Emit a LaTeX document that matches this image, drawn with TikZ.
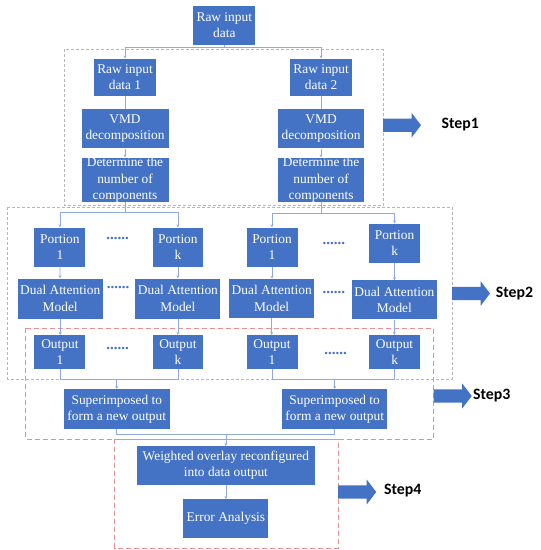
\documentclass[tikz,border=0pt]{standalone}
\usepackage{fontspec}
\setmainfont{Liberation Serif}
\newfontfamily\boxfont{Liberation Serif}
\newfontfamily\stepfont{Carlito}
\usetikzlibrary{arrows.meta}
\definecolor{boxblue}{HTML}{4472C4}
\definecolor{lineblue}{HTML}{8FAADC}
\definecolor{graydash}{HTML}{B8B8B8}
\definecolor{reddash}{HTML}{EC8E8E}
\newcommand\stepArrow[2]{\fill[boxblue] (#1,#2-6.7) -- (#1+28.5,#2-6.7) -- (#1+28.5,#2-12.5) -- (#1+38,#2) -- (#1+28.5,#2+12.5) -- (#1+28.5,#2+6.7) -- (#1,#2+6.7) -- cycle;}
\begin{document}
\begin{tikzpicture}[x=1pt,y=-1pt,
  bx/.style={fill=boxblue, text=white, align=center, inner sep=0pt,
    font=\boxfont\fontsize{13.4}{16.2}\selectfont},
  ln/.style={draw=lineblue, line width=0.7pt},
  arr/.style={ln, -{Stealth[length=3pt,width=3pt]}},
  dots/.style={text=boxblue, font=\boxfont\fontsize{15}{15}\selectfont\bfseries, inner sep=0pt},
  steplabel/.style={font=\stepfont\bfseries\fontsize{15.8}{18}\selectfont, inner sep=0pt},
  gbox/.style={draw=graydash, line width=0.8pt, dash pattern=on 3pt off 2pt},
  rbox/.style={draw=reddash, line width=1pt, dash pattern=on 5pt off 3pt}]
\useasboundingbox (0,0) rectangle (541,550);
% dashed groups
\draw[gbox] (64.2,49.3) rectangle (383,205.5);
\draw[gbox] (7.6,207.3) rectangle (452,379);
\draw[rbox] (25.9,328) rectangle (433,439.4);
\draw[rbox] (114.9,439.4) rectangle (338.2,548);
% boxes
\node[bx, minimum width=62, minimum height=39] (raw) at (224.3,25.4) {Raw input\\data};
\node[bx, minimum width=62, minimum height=37] (raw1) at (125,77.1) {Raw input\\data 1};
\node[bx, minimum width=62, minimum height=37] (raw2) at (321.1,77.1) {Raw input\\data 2};
\node[bx, minimum width=87, minimum height=39] (vmd1) at (125,128.9) {VMD\\decomposition};
\node[bx, minimum width=86, minimum height=39] (vmd2) at (321.1,128.9) {VMD\\decomposition};
\node[bx, minimum width=87, minimum height=42] (det1) at (125,179.8) {Determine the\\number of\\components};
\node[bx, minimum width=86, minimum height=42] (det2) at (321.1,179.8) {Determine the\\number of\\components};
\node[bx, minimum width=51, minimum height=39] (p1L) at (59.9,247) {Portion\\1};
\node[bx, minimum width=50, minimum height=39] (pkL) at (177.9,247) {Portion\\k};
\node[bx, minimum width=51, minimum height=39] (p1R) at (272,247) {Portion\\1};
\node[bx, minimum width=51, minimum height=39] (pkR) at (394.6,243) {Portion\\k};
\node[bx, minimum width=85, minimum height=40] (dL1) at (60.2,298.5) {Dual Attention\\Model};
\node[bx, minimum width=85, minimum height=40] (dLk) at (177.9,298.5) {Dual Attention\\Model};
\node[bx, minimum width=85, minimum height=39] (dR1) at (271.7,298.4) {Dual Attention\\Model};
\node[bx, minimum width=85, minimum height=39] (dRk) at (394.4,299.9) {Dual Attention\\Model};
\node[bx, minimum width=51, minimum height=34] (o1L) at (59.9,352.1) {Output\\1};
\node[bx, minimum width=50, minimum height=34] (okL) at (177.9,352.1) {Output\\k};
\node[bx, minimum width=51, minimum height=34] (o1R) at (272,352.1) {Output\\1};
\node[bx, minimum width=51, minimum height=34] (okR) at (394.6,352.1) {Output\\k};
\node[bx, minimum width=106, minimum height=40] (supL) at (116.8,409.2) {Superimposed to\\form a new output};
\node[bx, minimum width=105, minimum height=40] (supR) at (334.7,409.2) {Superimposed to\\form a new output};
\node[bx, minimum width=178, minimum height=39] (wt) at (225.9,465.6) {Weighted overlay reconfigured\\into data output};
\node[bx, minimum width=85, minimum height=39] (err) at (225.9,518.7) {Error Analysis};
% dots
\node[dots] (dt1) at (117.7,238.5) {......};
\node[dots] (dt2) at (333.9,243.7) {......};
\node[dots] (dt3) at (118,287.5) {......};
\node[dots] (dt4) at (333.9,292) {......};
\node[dots] (dt5) at (117.7,348) {......};
\node[dots] (dt6) at (335.5,353) {......};
% connectors
\coordinate (j0) at (224.3,47.5);
\draw[ln] (raw) -- (j0);
\draw[arr] (j0) -| (raw1);
\draw[arr] (j0) -| (raw2);
\draw[ln] (raw1) -- (vmd1);
\draw[ln] (raw2) -- (vmd2);
\draw[arr] (vmd1) -- (det1);
\draw[arr] (vmd2) -- (det2);
\coordinate (j1) at (125,212.4);
\coordinate (j2) at (321.1,213.5);
\draw[ln] (det1) -- (j1);
\draw[ln] (det2) -- (j2);
\draw[arr] (j1) -| (p1L);
\draw[arr] (j1) -| (pkL);
\draw[arr] (j2) -| (p1R);
\draw[arr] (j2) -| (pkR);
\draw[arr] (p1L) -- (dL1);
\draw[arr] (pkL) -- (dLk);
\draw[arr] (p1R) -- (p1R |- dR1.north);
\draw[arr] (pkR) -- (pkR |- dRk.north);
\draw[arr] (dL1) -- (dL1 |- o1L.north);
\draw[arr] (dLk) -- (okL);
\draw[arr] (dR1) -- (dR1 |- o1R.north);
\draw[arr] (dRk) -- (dRk |- okR.north);
\coordinate (m1) at (116.8,379);
\coordinate (m2) at (334.7,379.7);
\coordinate (m3) at (225.9,434.2);
\draw[ln] (o1L) |- (m1);
\draw[ln] (okL) |- (m1);
\draw[arr] (m1) -- (supL);
\draw[ln] (o1R) |- (m2);
\draw[ln] (okR) |- (m2);
\draw[arr] (m2) -- (supR);
\draw[ln] (supL) |- (m3);
\draw[ln] (supR) |- (m3);
\draw[arr] (m3) -- (wt);
\draw[arr] (wt) -- (err);
% step arrows
\stepArrow{383}{125.2}
\stepArrow{452}{293.5}
\stepArrow{433.7}{396}
\stepArrow{338.2}{492}
\node[steplabel] (s1) at (460.3,124.5) {Step1};
\node[steplabel] (s2) at (514.5,293.5) {Step2};
\node[steplabel] (s3) at (491.7,396) {Step3};
\node[steplabel] (s4) at (402.7,491) {Step4};
\end{tikzpicture}
\end{document}
